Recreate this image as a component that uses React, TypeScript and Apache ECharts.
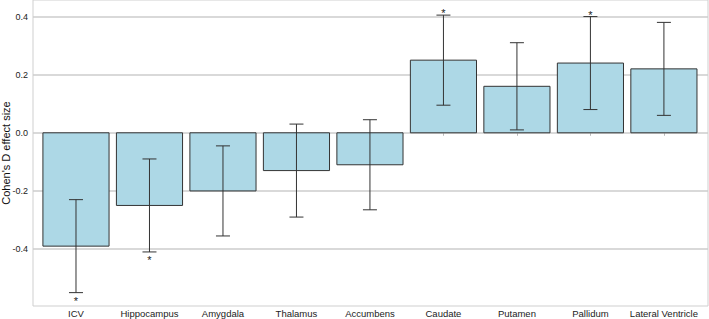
import React, { useEffect, useRef } from "react";
import * as echarts from "echarts";

const categories = ["ICV", "Hippocampus", "Amygdala", "Thalamus", "Accumbens", "Caudate", "Putamen", "Pallidum", "Lateral Ventricle"];
const effects = [-0.39, -0.25, -0.2, -0.13, -0.11, 0.25, 0.16, 0.24, 0.22];
const errors = [0.16, 0.16, 0.155, 0.16, 0.155, 0.155, 0.15, 0.16, 0.16];
const significant = [true, true, false, false, false, true, false, true, false];
const yTicks = [-0.4, -0.2, 0.0, 0.2, 0.4];

export default function App() {
  const ref = useRef<HTMLDivElement>(null);
  useEffect(() => {
    if (!ref.current) return;
    const chart = echarts.init(ref.current, null, { renderer: "svg" });
    const font = "Liberation Sans, Arial, sans-serif";
    const idx = categories.map((_, i) => i);
    const barHalf = 0.45;
    chart.setOption({
      animation: false,
      grid: {
        left: 33,
        right: 1,
        top: 0,
        bottom: 13,
        show: true,
        borderColor: "#cfcfcf",
        borderWidth: 1,
        containLabel: false,
        outerBoundsMode: "none",
      },
      xAxis: {
        type: "value",
        min: -0.585,
        max: 8.6,
        axisLine: { show: false },
        splitLine: { show: false },
        axisTick: { show: true, length: 3, lineStyle: { color: "#bbbbbb" }, customValues: idx },
        axisLabel: {
          customValues: idx,
          formatter: (v: number) => categories[Math.round(v)] ?? "",
          color: "#222",
          fontSize: 9.5,
          fontFamily: font,
          margin: 2,
        },
      },
      yAxis: {
        type: "value",
        min: -0.596,
        max: 0.457,
        axisLine: { show: false },
        axisTick: { show: false, customValues: yTicks },
        splitLine: { show: true, lineStyle: { color: "#cccccc", width: 1.5 } },
        axisLabel: {
          customValues: yTicks,
          formatter: (v: number) => v.toFixed(1),
          color: "#222",
          fontSize: 9,
          fontFamily: font,
          margin: 5,
        },
        name: "Cohen's D effect size",
        nameLocation: "middle",
        nameGap: 22,
        nameMoveOverlap: false,
        nameTextStyle: { fontSize: 11, color: "#111", fontFamily: font },
      },
      series: [
        {
          type: "custom",
          z: 2,
          data: effects.map((v, i) => [i, v]),
          renderItem: (params: any, api: any) => {
            const x = api.value(0);
            const v = api.value(1);
            const p1 = api.coord([x - barHalf, v]);
            const p2 = api.coord([x + barHalf, 0]);
            return {
              type: "rect",
              shape: {
                x: Math.min(p1[0], p2[0]),
                y: Math.min(p1[1], p2[1]),
                width: Math.abs(p2[0] - p1[0]),
                height: Math.abs(p2[1] - p1[1]),
              },
              style: { fill: "#add8e6", stroke: "#333", lineWidth: 1 },
            };
          },
        },
        {
          type: "custom",
          z: 5,
          data: effects.map((v, i) => [i, v, errors[i], significant[i] ? 1 : 0]),
          renderItem: (params: any, api: any) => {
            const x = api.value(0);
            const v = api.value(1);
            const e = api.value(2);
            const sig = api.value(3);
            const hi = api.coord([x, v + e]);
            const lo = api.coord([x, v - e]);
            const cap = 7;
            const ls = { stroke: "#333", lineWidth: 1 };
            const children: any[] = [
              { type: "line", shape: { x1: hi[0], y1: hi[1], x2: lo[0], y2: lo[1] }, style: ls },
              { type: "line", shape: { x1: hi[0] - cap, y1: hi[1], x2: hi[0] + cap, y2: hi[1] }, style: ls },
              { type: "line", shape: { x1: lo[0] - cap, y1: lo[1], x2: lo[0] + cap, y2: lo[1] }, style: ls },
            ];
            if (sig) {
              const below = v < 0;
              children.push({
                type: "text",
                style: {
                  text: "*",
                  x: below ? lo[0] : hi[0],
                  y: below ? lo[1] + 8 : hi[1] - 2,
                  align: "center",
                  verticalAlign: "middle",
                  fontSize: 11,
                  fontFamily: font,
                  fill: "#222",
                },
              });
            }
            return { type: "group", children };
          },
        },
      ],
    });
    return () => chart.dispose();
  }, []);
  return <div ref={ref} style={{ width: 709, height: 319, position: "absolute", left: 0, top: 0 }} />;
}
